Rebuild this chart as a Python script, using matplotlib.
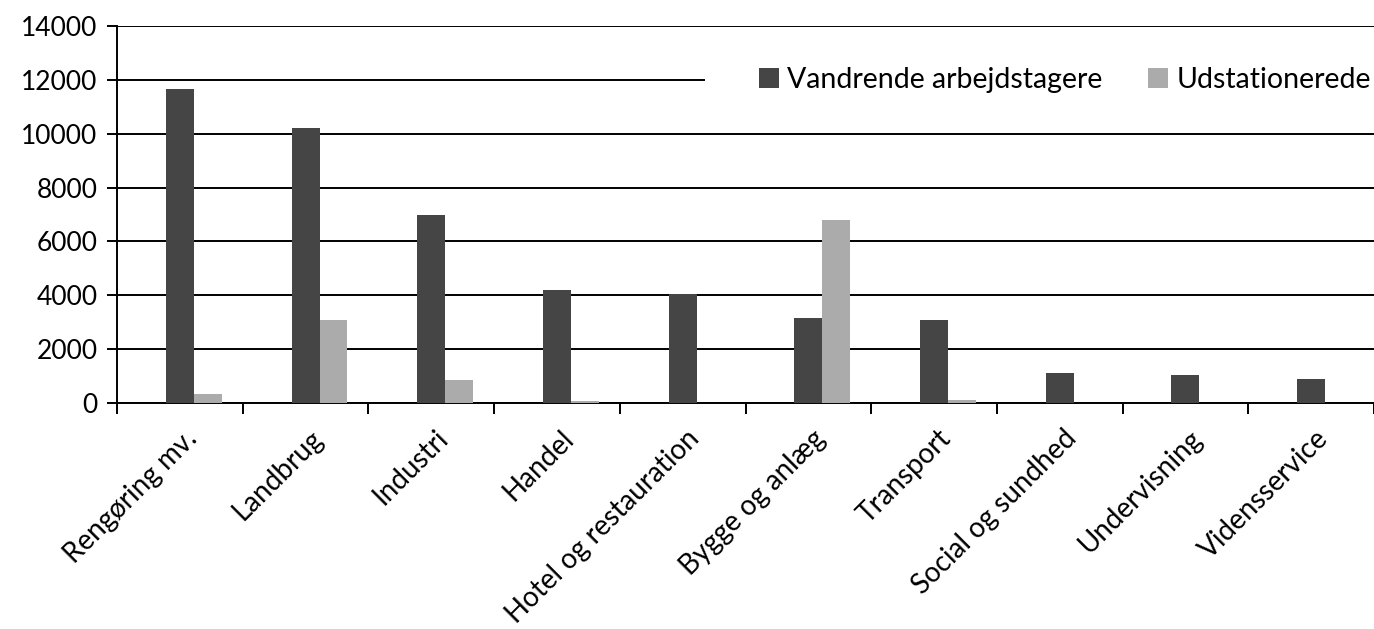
import numpy as np
import matplotlib
matplotlib.use('Agg')
import matplotlib.pyplot as plt
from matplotlib.patches import Rectangle

categories = ['Rengøring mv.', 'Landbrug', 'Industri', 'Handel',
              'Hotel og restauration', 'Bygge og anlæg', 'Transport',
              'Social og sundhed', 'Undervisning', 'Vidensservice']
vandrende = [11650, 10200, 7000, 4200, 4030, 3170, 3100, 1100, 1040, 890]
udstationerede = [320, 3100, 850, 70, 0, 6780, 100, 0, 0, 0]

plt.rcParams['font.family'] = ['Lato', 'DejaVu Sans']

fig = plt.figure(figsize=(13.74, 6.29), dpi=100)
ax = fig.add_axes([117 / 1374, 226 / 629, 1257 / 1374, 377 / 629])

x = np.arange(len(categories))
w = 0.222
ax.bar(x, vandrende, w, color='#454545', label='Vandrende arbejdstagere', zorder=3)
ax.bar(x + w, udstationerede, w, color='#ababab', label='Udstationerede', zorder=3)

ax.set_ylim(0, 14000)
ax.set_xlim(-0.5, 9.48)
ax.set_yticks(range(0, 14001, 2000))
ax.yaxis.grid(True, color='black', linewidth=1.4)
ax.tick_params(axis='y', labelsize=19, length=7, width=1.4, color='black', pad=7)

# ticks at the category boundaries, labels at the centres
ax.set_xticks(np.arange(-0.5, 10, 1.0))
ax.set_xticklabels([])
ax.tick_params(axis='x', which='major', length=8, width=1.4, direction='out')
ax.set_xticks(x + 0.03, minor=True)
ax.set_xticklabels(categories, minor=True, rotation=45, ha='right',
                   rotation_mode='anchor', fontsize=20)
ax.tick_params(axis='x', which='minor', length=0, pad=16)

for s in ['top', 'right']:
    ax.spines[s].set_visible(False)
for s in ['left', 'bottom']:
    ax.spines[s].set_linewidth(1.4)

# white box behind the legend that hides part of the 12000 gridline
ax.add_patch(Rectangle((705 / 1374, 1 - 100 / 629), 669 / 1374, 40 / 629,
                       transform=fig.transFigure, facecolor='white',
                       edgecolor='none', zorder=2, clip_on=False))

leg = ax.legend(loc='center right', ncol=2, fontsize=20.5, frameon=False,
                handlelength=0.7, handleheight=0.7, handletextpad=0.3,
                columnspacing=1.6, borderpad=0, borderaxespad=0)
leg.set_zorder(5)
leg.set_bbox_to_anchor((1371 / 1374, 1 - 80 / 629), transform=fig.transFigure)

fig.savefig('out.png', dpi=100)
